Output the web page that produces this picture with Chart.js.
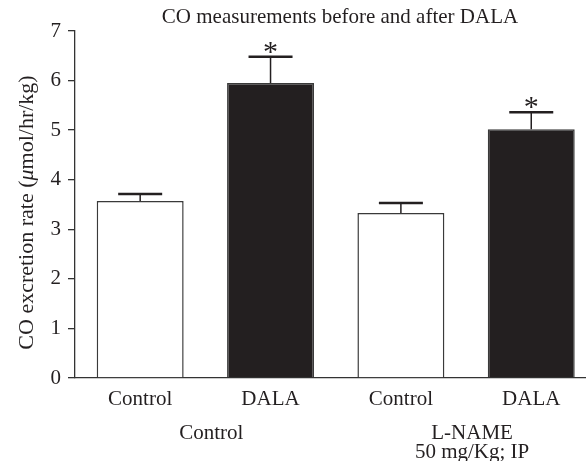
<!DOCTYPE html>
<html>
<head>
<meta charset="utf-8">
<script src="https://cdn.jsdelivr.net/npm/chart.js@4.4.1/dist/chart.umd.min.js"></script>
<style>
  html, body { margin: 0; padding: 0; background: #fff; }
  #wrap { width: 586px; height: 461px; position: relative; }
</style>
</head>
<body>
<div id="wrap"><canvas id="coChart"></canvas></div>
<script>
/* CO measurements before and after DALA */

const tickLabels = ['Control', 'DALA', 'Control', 'DALA'];
const meanValues = [3.57, 5.95, 3.33, 5.02];
const errorValues = [0.14, 0.53, 0.20, 0.34];
const significant = [false, true, false, true];
const groupLabels = [['Control'], ['L-NAME', '50 mg/Kg; IP']];
const yTicks = [0, 1, 2, 3, 4, 5, 6, 7];

const chartTitle = 'CO measurements before and after DALA';
const yTitleParts = ['CO excretion rate (', '\u03bc', 'mol/hr/kg)'];

const serif = "'Liberation Serif', 'DejaVu Serif', serif";
const ink = '#231f20';

const barData = tickLabels.map((label, i) => ({ x: i, y: meanValues[i] }));

const extras = {
  id: 'extras',
  afterDatasetsDraw(chart) {
    const { ctx, scales: { x, y } } = chart;
    ctx.save();
    meanValues.forEach((v, i) => {
      const cx = x.getPixelForValue(i);
      const top = y.getPixelForValue(v);
      const errTop = y.getPixelForValue(v + errorValues[i]);
      ctx.strokeStyle = ink;
      ctx.lineWidth = 1.5;
      ctx.beginPath();
      ctx.moveTo(cx, top);
      ctx.lineTo(cx, errTop);
      ctx.stroke();
      ctx.lineWidth = 2.5;
      ctx.beginPath();
      ctx.moveTo(cx - 22, errTop);
      ctx.lineTo(cx + 22, errTop);
      ctx.stroke();
      if (significant[i]) {
        ctx.fillStyle = ink;
        ctx.font = '30px ' + serif;
        ctx.textAlign = 'center';
        ctx.textBaseline = 'alphabetic';
        ctx.fillText('*', cx, errTop + 4);
      }
    });
    ctx.restore();
  },
  afterDraw(chart) {
    const { ctx, chartArea, scales: { x } } = chart;
    ctx.save();
    ctx.fillStyle = ink;
    ctx.font = '21px ' + serif;
    ctx.textAlign = 'center';
    ctx.textBaseline = 'middle';
    ctx.fillText(chartTitle, 340, 17);

    groupLabels.forEach((lines, g) => {
      const cx = x.getPixelForValue(g * 2 + 0.5);
      lines.forEach((line, k) => {
        ctx.fillText(line, cx + 6, 433 + k * 19);
      });
    });

    // y axis title with italic mu
    ctx.translate(27, (chartArea.top + chartArea.bottom) / 2 + 8);
    ctx.rotate(-Math.PI / 2);
    ctx.textAlign = 'left';
    const fonts = ['22px ' + serif, 'italic 22px ' + serif, '22px ' + serif];
    let total = 0;
    const widths = yTitleParts.map((p, i) => {
      ctx.font = fonts[i];
      const w = ctx.measureText(p).width;
      total += w;
      return w;
    });
    let pos = -total / 2;
    yTitleParts.forEach((p, i) => {
      ctx.font = fonts[i];
      ctx.fillText(p, pos, 0);
      pos += widths[i];
    });
    ctx.restore();
  }
};

new Chart(document.getElementById('coChart'), {
  type: 'bar',
  data: {
    datasets: [{
      data: barData,
      backgroundColor: ['#ffffff', ink, '#ffffff', ink],
      borderColor: '#3a3a3a',
      borderWidth: 1.5,
      barPercentage: 0.667,
      categoryPercentage: 1
    }]
  },
  options: {
    responsive: true,
    maintainAspectRatio: false,
    animation: false,
    layout: { padding: { top: 31, left: 0, right: 0, bottom: 0 } },
    plugins: {
      legend: { display: false },
      title: { display: false },
      tooltip: { enabled: false }
    },
    scales: {
      x: {
        type: 'linear',
        offset: false,
        min: -0.5,
        max: 3.42,
        afterBuildTicks: (scale) => { scale.ticks = tickLabels.map((l, i) => ({ value: i })); },
        afterFit: (scale) => { scale.height = 83; },
        grid: { display: false, drawTicks: false, offset: false },
        border: { display: true, color: '#333', width: 1.3 },
        ticks: {
          autoSkip: false,
          maxRotation: 0,
          padding: 9,
          color: ink,
          font: { family: serif, size: 21 },
          callback: (v) => tickLabels[v]
        }
      },
      y: {
        min: 0,
        max: 7,
        afterBuildTicks: (scale) => { scale.ticks = yTicks.map(v => ({ value: v })); },
        afterFit: (scale) => { scale.width = 75; },
        grid: { drawOnChartArea: false, drawTicks: true, tickLength: 7, color: '#333', lineWidth: 1.3 },
        border: { display: true, color: '#333', width: 1.3 },
        ticks: {
          padding: 7,
          color: ink,
          font: { family: serif, size: 21 }
        }
      }
    }
  },
  plugins: [extras]
});
</script>
</body>
</html>
